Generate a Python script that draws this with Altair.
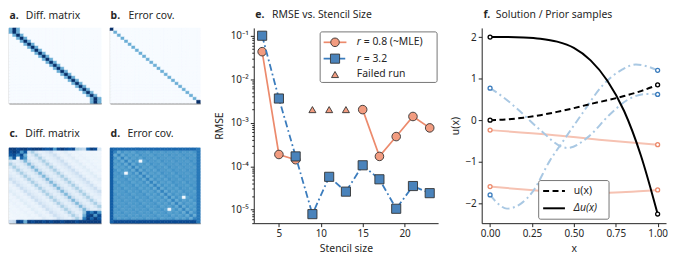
import altair as alt
import numpy as np
import pandas as pd

FONT = "Noto Sans"
TXT = "#262626"
N = 25
BLUES = ["#f7fbff", "#deebf7", "#c6dbef", "#9ecae1", "#6baed6",
         "#4292c6", "#2171b5", "#08519c", "#08306b"]

# ---------------- panel a: 3-point difference matrix (|coefficients|)
a_stencil = [1.0, 2.0, 1.0]
a_vmax = 2.0
# ---------------- panel b: error covariance (diagonal)
b_interior = 0.5
b_corner = 1.0
# ---------------- panel c: wide-stencil difference matrix
c_band = [0.45, 0.22, 0.12, 0.10, 0.18, 0.34, 0.16, 0.08, 0.10, 0.14, 0.22, 0.10,
          0.06, 0.08, 0.12, 0.06, 0.05, 0.07, 0.05, 0.04, 0.05, 0.04, 0.03, 0.03, 0.02]
c_top_row = [0.95, 0.95, 0.90, 0.95, 0.95, 0.90, 0.95, 0.95, 0.95, 0.90, 0.85, 0.90, 0.60,
             0.90, 0.95, 0.90, 0.85, 0.90, 0.35, 0.30, 0.25, 0.80, 0.95, 0.90, 0.15]
c_bottom_row = [0.20, 0.25, 0.95, 0.90, 0.50, 0.95, 0.90, 0.95, 0.95, 0.90, 0.95, 0.90, 0.95,
                0.95, 0.90, 0.95, 0.95, 0.95, 0.90, 0.95, 0.95, 0.95, 0.95, 0.95, 0.95]
c_top_block = [[0.90, 0.95, 0.90, 0.60, 0.85],
               [0.85, 0.90, 0.70, 0.90, 0.50],
               [0.50, 0.85, 0.05, 0.80, 0.60]]
c_bottom_block = [[0.40, 0.85, 0.70, 0.90, 0.60],
                  [0.50, 0.90, 0.95, 0.60, 0.90],
                  [0.70, 0.95, 0.80, 0.95, 0.85]]
# ---------------- panel d: dense error covariance
d_band = [0.68, 0.52, 0.62, 0.56, 0.60, 0.55, 0.62, 0.58, 0.60, 0.56, 0.62, 0.58, 0.60,
          0.57, 0.61, 0.58, 0.60, 0.57, 0.62, 0.58, 0.60, 0.57, 0.61, 0.58, 0.60]
d_top = 0.78
d_bottom = 0.90
d_left = 0.82
d_right = 0.72
d_spot_rows = [4, 8, 16, 20]
d_spot_cols = [8, 4, 20, 16]
d_spot_val = 0.02

# ---------------- panel e: RMSE vs stencil size
stencil = [3, 5, 7, 9, 11, 13, 15, 17, 19, 21, 23]
rmse_r08 = [0.043, 1.86e-4, 1.41e-4, None, None, None, 2.0e-3, 1.68e-4, 4.8e-4, 1.39e-3, 7.6e-4]
rmse_r32 = [0.1, 3.6e-3, 1.68e-4, 7.9e-6, 5.7e-5, 2.6e-5, 1.05e-4, 5.0e-5, 1.05e-5, 3.5e-5, 2.4e-5]
failed_x = [9, 11, 13]
failed_y = [2.0e-3, 2.0e-3, 2.0e-3]

# ---------------- panel f: solution / prior samples
lap_x = [0.0, 0.1, 0.2, 0.3, 0.4, 0.5, 0.6, 0.7, 0.8, 0.9, 1.0]
lap_y = [2.0, 2.0, 1.99, 1.96, 1.89, 1.74, 1.44, 0.95, 0.22, -0.85, -2.26]
u_x = [0.0, 0.1, 0.2, 0.3, 0.4, 0.5, 0.6, 0.7, 0.8, 0.9, 1.0]
u_y = [0.0, 0.02, 0.06, 0.12, 0.2, 0.29, 0.39, 0.48, 0.58, 0.7, 0.85]
blue1_x = [0.0, 0.08, 0.16, 0.3, 0.435, 0.46, 0.59, 0.71, 0.83, 0.93, 1.0]
blue1_y = [0.77, 0.55, 0.28, -0.24, -0.65, -0.67, -0.39, 0.12, 0.51, 0.63, 0.62]
blue2_x = [0.0, 0.05, 0.1, 0.18, 0.26, 0.356, 0.435, 0.55, 0.67, 0.79, 0.87, 0.95, 1.0]
blue2_y = [-1.8, -2.02, -2.13, -2.02, -1.69, -0.98, -0.51, 0.16, 0.83, 1.22, 1.34, 1.28, 1.2]
sal1_x = [0.0, 0.356, 0.65, 1.0]
sal1_y = [-0.24, -0.35, -0.47, -0.59]
sal2_x = [0.0, 0.26, 0.55, 0.81, 1.0]
sal2_y = [-1.6, -1.69, -1.77, -1.73, -1.68]

# ====================================================================
blues = alt.Scale(domain=list(np.linspace(0, 1, 9)), range=BLUES, clamp=True)


def mat_a():
    m = np.zeros((N, N))
    for i in range(N):
        c = min(max(i, 1), N - 2)
        for k, v in zip([-1, 0, 1], a_stencil):
            m[i, c + k] = v / a_vmax
    return m


def mat_b():
    m = np.zeros((N, N))
    for i in range(N):
        m[i, i] = b_interior
    m[0, 0] = b_corner
    m[N - 1, N - 1] = b_corner
    return m


def mat_c():
    m = np.zeros((N, N))
    for i in range(N):
        for j in range(N):
            m[i, j] = c_band[abs(i - j)]
    m[0, :] = c_top_row
    m[N - 1, :] = c_bottom_row
    m[1:4, 0:5] = c_top_block
    m[N - 4:N - 1, N - 5:N] = c_bottom_block
    return m


def mat_d():
    m = np.zeros((N, N))
    for i in range(N):
        for j in range(N):
            m[i, j] = d_band[abs(i - j)]
    m[0, :] = d_top
    m[N - 1, :] = d_bottom
    m[:, 0] = d_left
    m[:, N - 1] = d_right
    for r, c in zip(d_spot_rows, d_spot_cols):
        m[r, c] = d_spot_val
    return m


def one(**kw):
    return alt.Data(values=[kw])


def title_layers(letter, label, dx, x0, ty):
    t1 = alt.Chart(one(t=letter)).mark_text(
        font=FONT, fontSize=10.5, fontWeight="bold", align="left", baseline="middle", color=TXT
    ).encode(text="t:N", x=alt.value(x0), y=alt.value(ty))
    t2 = alt.Chart(one(t=label)).mark_text(
        font=FONT, fontSize=10.5, align="left", baseline="middle", color=TXT
    ).encode(text="t:N", x=alt.value(x0 + dx), y=alt.value(ty))
    return [t1, t2]


# ---------------- left block: four heat maps in one layered view
A_W, B_W, HM_H, GAP_X, GAP_Y = 93, 91, 76, 9, 45
E_W, E_H = 186, 197
F_W, F_H = 186, 197
LEFT_W = A_W + GAP_X + B_W + 10


def heat(m, x0, x1, y0, y1):
    rows, cols = np.indices(m.shape)
    df = pd.DataFrame({"row": rows.ravel(), "col": cols.ravel(), "v": m.ravel()})
    df["row2"] = df["row"] + 1
    df["col2"] = df["col"] + 1
    common = dict(labels=False, ticks=False, title=None, grid=False,
                  domainColor="#8c8c8c", domainWidth=1.4)
    return alt.Chart(df).mark_rect(strokeWidth=0.5).encode(
        x=alt.X("col:Q", scale=alt.Scale(domain=[0, N], range=[x0, x1], nice=False, zero=False),
                axis=alt.Axis(orient="bottom", offset=-(E_H - y1), **common)),
        x2="col2:Q",
        y=alt.Y("row:Q", scale=alt.Scale(domain=[0, N], range=[y0, y1], nice=False, zero=False),
                axis=alt.Axis(orient="left", offset=-x0, **common)),
        y2="row2:Q",
        color=alt.Color("v:Q", scale=blues, legend=None),
        stroke=alt.Stroke("v:Q", scale=blues, legend=None),
    )


bx0 = A_W + GAP_X
cy0 = HM_H + GAP_Y
hm = [
    heat(mat_a(), 0, A_W, 0, HM_H),
    heat(mat_b(), bx0, bx0 + B_W, 0, HM_H),
    heat(mat_c(), 0, A_W, cy0, E_H),
    heat(mat_d(), bx0, bx0 + B_W, cy0, E_H),
]
hm_titles = (title_layers("a.", "Diff. matrix", 16.5, 0.5, -12)
             + title_layers("b.", "Error cov.", 18, bx0 + 0.5, -12)
             + title_layers("c.", "Diff. matrix", 16, 0.5, cy0 - 13.5)
             + title_layers("d.", "Error cov.", 17, bx0 + 0.5, cy0 - 13.5))
left = alt.layer(*hm, *hm_titles).resolve_scale(x="independent", y="independent").properties(
    width=LEFT_W, height=E_H)

# ---------------- panel e
SAL_LINE = "#ec8a6c"
SAL_FILL = "#f29c80"
BLU_LINE = "#3b7cbd"
BLU_FILL = "#4a83bb"
EDGE = "#333333"

rows08 = []
seg = 0
for x, y in zip(stencil, rmse_r08):
    if y is None:
        seg += 1
        continue
    rows08.append({"x": x, "y": y, "seg": seg})
df08 = pd.DataFrame(rows08)
df32 = pd.DataFrame({"x": stencil, "y": rmse_r32})
dff = pd.DataFrame({"x": failed_x, "y": failed_y})

major = [1e-5, 1e-4, 1e-3, 1e-2, 1e-1]
minor = [k * 10.0 ** d for d in range(-6, 0) for k in range(2, 10)
         if 4.9e-6 < k * 10.0 ** d < 0.151]
is_major = "abs(log(datum.value)/LN10 - round(log(datum.value)/LN10)) < 0.01"
ex = alt.X("x:Q", scale=alt.Scale(domain=[2, 24], nice=False, zero=False),
           axis=alt.Axis(values=[5, 10, 15, 20], title="Stencil size", labelFlush=False,
                         titlePadding=5))
ey = alt.Y("y:Q", scale=alt.Scale(type="log", domain=[4.9e-6, 0.151], nice=False),
           axis=alt.Axis(values=major + minor, title="RMSE", labelOverlap=False, labelFlush=False,
                         labelExpr=is_major + " ? '10' + ['⁰','⁻¹','⁻²','⁻³','⁻⁴','⁻⁵','⁻⁶'][-round(log(datum.value)/LN10)] : ''",
                         tickSize={"condition": {"test": is_major, "value": 3.5}, "value": 2},
                         titlePadding=6))

e_l08 = alt.Chart(df08).mark_line(color=SAL_LINE, strokeWidth=1.7).encode(x=ex, y=ey, detail="seg:N")
e_p08 = alt.Chart(df08).mark_circle(size=75, color=SAL_FILL, stroke=EDGE, strokeWidth=0.9, opacity=1).encode(x=ex, y=ey)
e_l32 = alt.Chart(df32).mark_line(color=BLU_LINE, strokeWidth=1.8, strokeDash=[7, 3, 1.8, 3]).encode(x=ex, y=ey)
e_p32 = alt.Chart(df32).mark_square(size=85, color=BLU_FILL, stroke=EDGE, strokeWidth=0.9, opacity=1).encode(x=ex, y=ey)
e_pf = alt.Chart(dff).mark_point(shape="triangle-up", size=50, filled=True, fill=SAL_FILL, stroke=EDGE,
                                  strokeWidth=0.9, opacity=1).encode(x=ex, y=ey)

# legend (e)
LX0, LX1, LXM, LXT = 70.5, 93.5, 82, 104
leg_e = [
    alt.Chart(one(a=1)).mark_rect(fill="white", stroke="#666666", strokeWidth=0.9, cornerRadius=2).encode(
        x=alt.value(67), x2=alt.value(185), y=alt.value(4), y2=alt.value(55)),
    alt.Chart(one(a=1)).mark_rule(color=SAL_LINE, strokeWidth=1.7).encode(
        x=alt.value(LX0), x2=alt.value(LX1), y=alt.value(14.5)),
    alt.Chart(one(a=1)).mark_circle(size=75, color=SAL_FILL, stroke=EDGE, strokeWidth=0.9, opacity=1).encode(
        x=alt.value(LXM), y=alt.value(14.5)),
    alt.Chart(one(a=1)).mark_rule(color=BLU_LINE, strokeWidth=1.8, strokeDash=[7, 3, 1.8, 3]).encode(
        x=alt.value(LX0), x2=alt.value(LX1), y=alt.value(31)),
    alt.Chart(one(a=1)).mark_square(size=85, color=BLU_FILL, stroke=EDGE, strokeWidth=0.9, opacity=1).encode(
        x=alt.value(LXM), y=alt.value(31)),
    alt.Chart(one(a=1)).mark_point(shape="triangle-up", size=50, filled=True, fill=SAL_FILL, stroke=EDGE,
                                   strokeWidth=0.9, opacity=1).encode(x=alt.value(LXM), y=alt.value(47)),
    alt.Chart(one(t="r")).mark_text(font=FONT, fontSize=10.5, fontStyle="italic", align="left",
                                    baseline="middle", color=TXT).encode(text="t:N", x=alt.value(LXT), y=alt.value(14.5)),
    alt.Chart(one(t="= 0.8 (~MLE)")).mark_text(font=FONT, fontSize=10.5, align="left",
                                               baseline="middle", color=TXT).encode(text="t:N", x=alt.value(LXT + 7), y=alt.value(14.5)),
    alt.Chart(one(t="r")).mark_text(font=FONT, fontSize=10.5, fontStyle="italic", align="left",
                                    baseline="middle", color=TXT).encode(text="t:N", x=alt.value(LXT), y=alt.value(31)),
    alt.Chart(one(t="= 3.2")).mark_text(font=FONT, fontSize=10.5, align="left",
                                        baseline="middle", color=TXT).encode(text="t:N", x=alt.value(LXT + 7), y=alt.value(31)),
    alt.Chart(one(t="Failed run")).mark_text(font=FONT, fontSize=10.5, align="left",
                                             baseline="middle", color=TXT).encode(text="t:N", x=alt.value(LXT), y=alt.value(47)),
]

pe = alt.layer(e_l08, e_p08, e_l32, e_p32, e_pf, *leg_e,
               *title_layers("e.", "RMSE vs. Stencil Size", 17, 1.5, -13.5)).properties(width=E_W, height=E_H)

# ---------------- panel f
BLU_LIGHT = "#a9c8e3"
SAL_LIGHT = "#f6c2b2"
SAL_MK = "#ec8a6c"
BLU_MK = "#3b7cbd"
fx = alt.X("x:Q", scale=alt.Scale(domain=[-0.05, 1.05], nice=False, zero=False),
           axis=alt.Axis(values=[0, 0.25, 0.5, 0.75, 1.0], format=".2f", title="x", labelFlush=False,
                         titlePadding=5))
fy = alt.Y("y:Q", scale=alt.Scale(domain=[-2.48, 2.22], nice=False, zero=False),
           axis=alt.Axis(values=[-2, -1, 0, 1, 2], format="d", title="u(x)", labelFlush=False,
                         titlePadding=4))


def curve(xs, ys, color, width, dash=None):
    df = pd.DataFrame({"x": xs, "y": ys})
    kw = dict(color=color, strokeWidth=width, interpolate="monotone")
    if dash:
        kw["strokeDash"] = dash
    return alt.Chart(df).mark_line(**kw).encode(x=fx, y=fy)


def ends(xs, ys, color):
    df = pd.DataFrame({"x": [xs[0], xs[-1]], "y": [ys[0], ys[-1]]})
    return alt.Chart(df).mark_point(shape="circle", size=16, filled=True, fill="white", stroke=color,
                                    strokeWidth=1.3, opacity=1).encode(x=fx, y=fy)


DASHDOT = [8, 3.5, 2, 3.5]
f_layers = [
    curve(sal1_x, sal1_y, SAL_LIGHT, 2),
    curve(sal2_x, sal2_y, SAL_LIGHT, 2),
    curve(blue1_x, blue1_y, BLU_LIGHT, 2, DASHDOT),
    curve(blue2_x, blue2_y, BLU_LIGHT, 2, DASHDOT),
    curve(u_x, u_y, "black", 2, [6, 3.5]),
    curve(lap_x, lap_y, "black", 2),
    ends(sal1_x, sal1_y, SAL_MK),
    ends(sal2_x, sal2_y, SAL_MK),
    ends(blue1_x, blue1_y, BLU_MK),
    ends(blue2_x, blue2_y, BLU_MK),
    ends(u_x, u_y, "black"),
    ends(lap_x, lap_y, "black"),
]
r1, r2 = F_H - 32.5, F_H - 15
leg_f = [
    alt.Chart(one(a=1)).mark_rect(fill="white", stroke="#666666", strokeWidth=0.9, cornerRadius=2).encode(
        x=alt.value(57.5), x2=alt.value(128.5), y=alt.value(F_H - 43), y2=alt.value(F_H - 4)),
    alt.Chart(one(a=1)).mark_rule(color="black", strokeWidth=2, strokeDash=[6, 3.5]).encode(
        x=alt.value(62), x2=alt.value(84), y=alt.value(r1)),
    alt.Chart(one(a=1)).mark_rule(color="black", strokeWidth=2).encode(
        x=alt.value(62), x2=alt.value(84), y=alt.value(r2)),
    alt.Chart(one(t="u(x)")).mark_text(font=FONT, fontSize=10.5, align="left", baseline="middle",
                                       color=TXT).encode(text="t:N", x=alt.value(93), y=alt.value(r1)),
    alt.Chart(one(t="Δu(x)")).mark_text(font=FONT, fontSize=10.5, fontStyle="italic", align="left",
                                        baseline="middle", color=TXT).encode(text="t:N", x=alt.value(93), y=alt.value(r2)),
]
pf = alt.layer(*f_layers, *leg_f, *title_layers("f.", "Solution / Prior samples", 12.5, 1.7, -12.7)
               ).properties(width=F_W, height=F_H)

# ---------------- layout
chart = alt.hconcat(left, pe, pf, spacing=44, bounds="flush").properties(padding=0).configure_view(
    stroke=None
).configure_axis(
    labelFont=FONT, titleFont=FONT, labelFontSize=10, titleFontSize=10.5, labelColor=TXT,
    titleColor=TXT, titleFontWeight="normal", domainColor="#222222", tickColor="#222222",
    grid=False, tickSize=3.5, labelPadding=2, domainWidth=1, tickWidth=1
)

chart.save("out.html", embed_options={"renderer": "svg", "actions": False})
